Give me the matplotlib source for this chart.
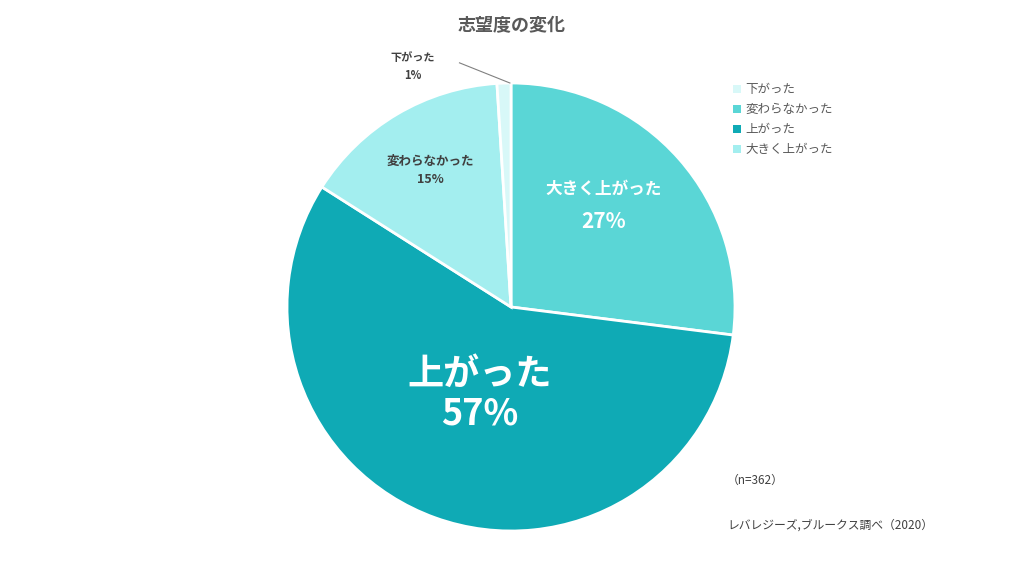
import matplotlib
matplotlib.use("Agg")
import matplotlib.pyplot as plt
from matplotlib.patches import Patch

plt.rcParams["font.family"] = "Noto Sans CJK JP"

labels = ["大きく上がった", "上がった", "変わらなかった", "下がった"]
values = [27, 57, 15, 1]
colors = ["#5AD6D6", "#0FAAB5", "#A3EEEF", "#D8F8F8"]
legend_labels = ["下がった", "変わらなかった", "上がった", "大きく上がった"]
legend_colors = ["#D8F8F8", "#5AD6D6", "#0FAAB5", "#A3EEEF"]

fig = plt.figure(figsize=(10.24, 5.77), dpi=100)
ax = fig.add_axes([(511-224)/1024, (577-307-224)/577, 448/1024, 448/577])
wedges, _ = ax.pie(values, colors=colors, startangle=90, counterclock=False,
                   wedgeprops=dict(edgecolor="white", linewidth=2))
ax.set_xlim(-1, 1)
ax.set_ylim(-1, 1)
ax.set_aspect("equal")
ax.axis("off")

ax.text(0.415, 0.53, labels[0], ha="center", va="center",
        color="white", fontsize=12, fontweight="bold")
ax.text(0.415, 0.38, f"{values[0]}%", ha="center", va="center",
        color="white", fontsize=15, fontweight="bold")
ax.text(-0.14, -0.39, f"{labels[1]}\n{values[1]}%", ha="center", va="center",
        color="white", fontsize=26, fontweight="bold", linespacing=1.1)
ax.text(-0.36, 0.61, f"{labels[2]}\n{values[2]}%", ha="center", va="center",
        color="#404040", fontsize=9, fontweight="bold", linespacing=1.5)
ax.text(-0.44, 1.075, f"{labels[3]}\n{values[3]}%", ha="center", va="center",
        color="#404040", fontsize=8, fontweight="bold", linespacing=1.5)
ax.plot([-0.23, -0.005], [1.09, 1.0], color="#808080", lw=0.8, clip_on=False)

fig.text(0.5, 0.955, "志望度の変化", ha="center", va="center", fontsize=13,
         fontweight="bold", color="#595959")
handles = [Patch(facecolor=c, label=l) for c, l in zip(legend_colors, legend_labels)]
fig.legend(handles=handles, loc="upper left", bbox_to_anchor=(0.705, 0.875),
           frameon=False, fontsize=9, handlelength=0.6, handleheight=0.6,
           handletextpad=0.4, labelspacing=0.55, labelcolor="#595959")
fig.text(0.71, 0.168, "（n=362）", fontsize=8.5, color="#404040", va="center")
fig.text(0.71, 0.09, "レバレジーズ,ブルークス調べ（2020）", fontsize=8.5, color="#404040", va="center")
fig.savefig("out.png", dpi=100)
